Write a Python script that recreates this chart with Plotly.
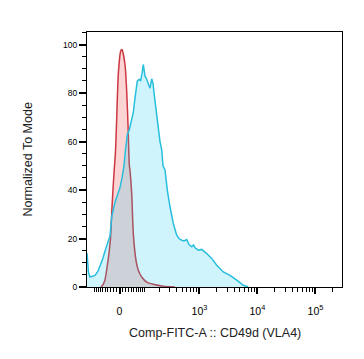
import numpy as np
import plotly.graph_objects as go

# Display channel (0-255 biexponential scale) and normalized-to-mode counts
iso_channel = [14, 16, 18, 20, 22, 23.5, 25, 27, 28.5, 29.5, 31.3, 33.7, 35, 38, 39.7, 41, 42.3,
               43, 44.7, 46.3, 49, 51.3, 54.7, 59.7, 66.3, 76.3, 88]
iso_mode = [0, 1, 3, 8, 14, 20, 33, 47, 56, 67, 87.7, 97.3, 98, 91.8, 80.7, 67, 50.4,
            48, 38.7, 22, 11, 6.9, 4.1, 2, 1.1, 0.3, 0]

cd49d_channel = [0, 1.5, 3, 5, 8, 11, 13, 16, 18.5, 21, 23, 24.7, 26, 28, 30.5, 33, 35, 37, 38.5,
                 40.3, 42.3, 44, 46.3, 48, 50.3, 52, 53.7, 55, 56.3, 58, 59.5, 61, 63, 64.7, 66,
                 67, 68.5, 70, 71.3, 73, 74.7, 76, 78, 80.3, 83, 86.3, 89.7, 92, 94.7, 97, 99.7,
                 102, 104.7, 106.5, 108, 111.3, 114.7, 117, 119.7, 124.7, 129.7, 136.3, 143,
                 149.7, 156.3, 161.3]
cd49d_mode = [14, 6, 4.1, 4.3, 4.8, 6.5, 8.5, 12, 15.5, 18.5, 21, 29, 32, 35, 38, 41, 45, 50, 56.6,
              62.8, 64.9, 68, 72, 78, 84.9, 85.6, 85.2, 88, 91.8, 87, 86, 84.2, 82, 85.9, 84,
              80.1, 75, 69, 64.9, 60, 56.6, 50, 48.3, 40, 33.1, 26.2, 21.4, 20, 19.3, 19, 19.6,
              17.5, 16.6, 17.3, 16.2, 15.2, 15.5, 14.8, 13.8, 11.8, 9, 6.2, 4.8,
              2.8, 0.7, 0]

x_major_values = [0, 1e3, 1e4, 1e5]
x_major_labels = ["0", "10<sup>3</sup>", "10<sup>4</sup>", "10<sup>5</sup>"]
y_tick_values = [0, 20, 40, 60, 80, 100]


def biex(v):
    v = np.asarray(v, dtype=float)
    return 32.5 + 25.2 * np.arcsinh(v / 84.0)


minor_vals = []
for d in [1, 2, 3, 4, 5]:
    for m in range(1 if d == 2 else 2, 10):
        minor_vals.append(m * 10 ** d)
for m in range(1, 10):
    minor_vals.append(m * 10)
    minor_vals.append(-m * 10)
minor_vals.append(-100)
minor_pos = [float(p) for p in biex(minor_vals) if 0 <= p <= 255]

fig = go.Figure()
fig.add_trace(go.Scatter(
    x=iso_channel, y=iso_mode, mode="lines", fill="tozeroy",
    line=dict(color="rgb(205,55,65)", width=1.5, shape="spline", smoothing=0.6),
    fillcolor="rgba(240,40,40,0.2)", hoverinfo="skip"))
fig.add_trace(go.Scatter(
    x=cd49d_channel, y=cd49d_mode, mode="lines", fill="tozeroy",
    line=dict(color="rgb(40,190,222)", width=1.5),
    fillcolor="rgba(20,200,235,0.2)", hoverinfo="skip"))

# page body has an 8px margin, so the figure is sized to fit inside it
fig.update_layout(
    width=356, height=351,
    margin=dict(l=79, r=22, t=24, b=72, autoexpand=False),
    plot_bgcolor="white", paper_bgcolor="white",
    showlegend=False,
    font=dict(family="Liberation Sans, Arial, sans-serif", color="black"),
)
fig.update_xaxes(
    range=[0, 255], showgrid=False, zeroline=False,
    showline=True, linecolor="black", linewidth=1, mirror=True,
    ticks="outside", ticklen=6, tickwidth=1.5, tickcolor="black",
    tickmode="array", tickvals=[float(v) for v in biex(x_major_values)], ticktext=x_major_labels,
    tickfont=dict(size=10.5), ticklabelstandoff=8,
    minor=dict(tickmode="array", tickvals=minor_pos, ticks="outside", ticklen=4,
               tickwidth=1, tickcolor="black"),
)
fig.update_yaxes(
    range=[0, 105.2], showgrid=False, zeroline=False,
    showline=True, linecolor="black", linewidth=1, mirror=True,
    ticks="outside", ticklen=7, tickwidth=1.5, tickcolor="black",
    tickmode="array", tickvals=y_tick_values, ticktext=[str(v) for v in y_tick_values],
    tickfont=dict(size=8.5),
    minor=dict(dtick=5, ticks="outside", ticklen=4, tickwidth=1, tickcolor="black"),
)
fig.add_annotation(text="Normalized To Mode", xref="paper", yref="paper",
                   x=-0.235, y=0.5, textangle=-90, showarrow=False,
                   font=dict(size=12.5, color="#222"), xanchor="center", yanchor="middle")
fig.add_annotation(text="Comp-FITC-A :: CD49d (VLA4)", xref="paper", yref="paper",
                   x=0.5, y=-0.18, showarrow=False,
                   font=dict(size=12.5, color="#222"), xanchor="center", yanchor="middle")

fig.write_html("out.html")
